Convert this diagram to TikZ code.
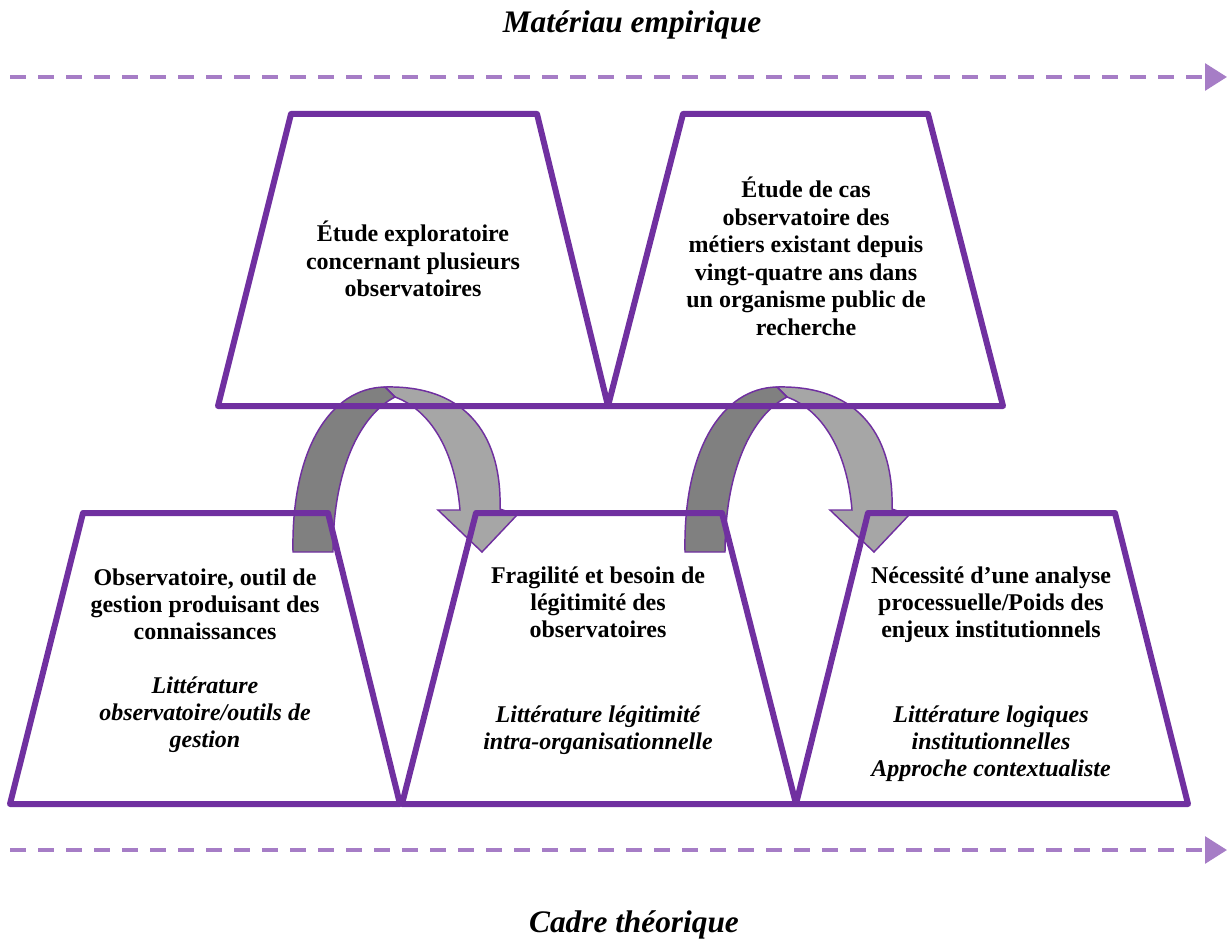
\documentclass[tikz,border=0pt]{standalone}
\usepackage{fontspec}
\setmainfont{Liberation Serif}
\usetikzlibrary{arrows.meta}
\definecolor{vio}{RGB}{112,48,160}
\definecolor{viol}{RGB}{166,125,198}
\definecolor{gdark}{RGB}{128,128,128}
\definecolor{glight}{RGB}{166,166,166}
\begin{document}
\begin{tikzpicture}[x=0.75pt,y=-0.75pt,
  trap/.style={draw=vio,line width=4.5pt,line join=round},
  bandd/.style={draw=vio,fill=gdark,line width=1.1pt,line join=miter},
  bandl/.style={draw=vio,fill=glight,line width=1.1pt,line join=miter},
  dashline/.style={draw=viol,line width=3pt,dash pattern=on 12pt off 9pt,
    -{Triangle[length=16.5pt,width=20pt]}},
  title/.style={anchor=base,inner sep=0pt,font=\bfseries\itshape\fontsize{23.5}{27}\selectfont},
  bt/.style={anchor=base,inner sep=0pt,font=\bfseries\fontsize{18}{20.6}\selectfont},
  it/.style={anchor=base,inner sep=0pt,font=\bfseries\itshape\fontsize{18}{20.6}\selectfont}]
\useasboundingbox (0,0) rectangle (1227,941);

% axis lines
\coordinate (ta) at (10,77);
\coordinate (tb) at (1227,77);
\coordinate (ba) at (10,850);
\coordinate (bb) at (1227,850);
\draw[dashline] (ta) -- (tb);
\draw[dashline] (ba) -- (bb);

\node[title] (emp) at (632,33) {Matériau empirique};
\node[title] (theo) at (634,932) {Cadre théorique};

% curved arrows
\foreach \dx in {0,392}{
\begin{scope}[xshift=\dx*0.75pt]
\draw[bandl] (385,387) .. controls (470,385) and (502,440) .. (500,509)
  -- (517,515) -- (482,552) -- (438,510) -- (460,510)
  .. controls (455,450) and (430,410) .. (395,397) -- cycle;
\draw[bandd] (293,552) .. controls (291,450) and (330,388) .. (385,387)
  -- (395,397) .. controls (360,415) and (333,470) .. (333,552) -- cycle;
\end{scope}}

% trapezoids
\draw[trap] (291,114) -- (537,114) -- (608,406) -- (218,406) -- cycle;
\draw[trap] (683,114) -- (928,114) -- (1003,406) -- (608,406) -- cycle;
\draw[trap] (83,513) -- (328,513) -- (400,804) -- (10,804) -- cycle;
\draw[trap] (476,513) -- (722,513) -- (796,804) -- (402,804) -- cycle;
\draw[trap] (868,513) -- (1115,513) -- (1188,804) -- (796,804) -- cycle;

% texts
\node[bt] (t1) at (413,242) {\begin{tabular}[t]{@{}c@{}}Étude exploratoire\\concernant plusieurs\\observatoires\end{tabular}};
\node[bt] (t2) at (806,198) {\begin{tabular}[t]{@{}c@{}}Étude de cas\\observatoire des\\métiers existant depuis\\vingt-quatre ans dans\\un organisme public de\\recherche\end{tabular}};
\node[bt] (b1) at (205,585) {\begin{tabular}[t]{@{}c@{}}Observatoire, outil de\\gestion produisant des\\connaissances\end{tabular}};
\node[it] (i1) at (205,693) {\begin{tabular}[t]{@{}c@{}}Littérature\\observatoire/outils de\\gestion\end{tabular}};
\node[bt] (b2) at (598,583) {\begin{tabular}[t]{@{}c@{}}Fragilité et besoin de\\légitimité des\\observatoires\end{tabular}};
\node[it] (i2) at (598,722) {\begin{tabular}[t]{@{}c@{}}Littérature légitimité\\intra-organisationnelle\end{tabular}};
\node[bt] (b3) at (991,583) {\begin{tabular}[t]{@{}c@{}}Nécessité d’une analyse\\processuelle/Poids des\\enjeux institutionnels\end{tabular}};
\node[it] (i3) at (991,722) {\begin{tabular}[t]{@{}c@{}}Littérature logiques\\institutionnelles\\Approche contextualiste\end{tabular}};
\end{tikzpicture}
\end{document}
